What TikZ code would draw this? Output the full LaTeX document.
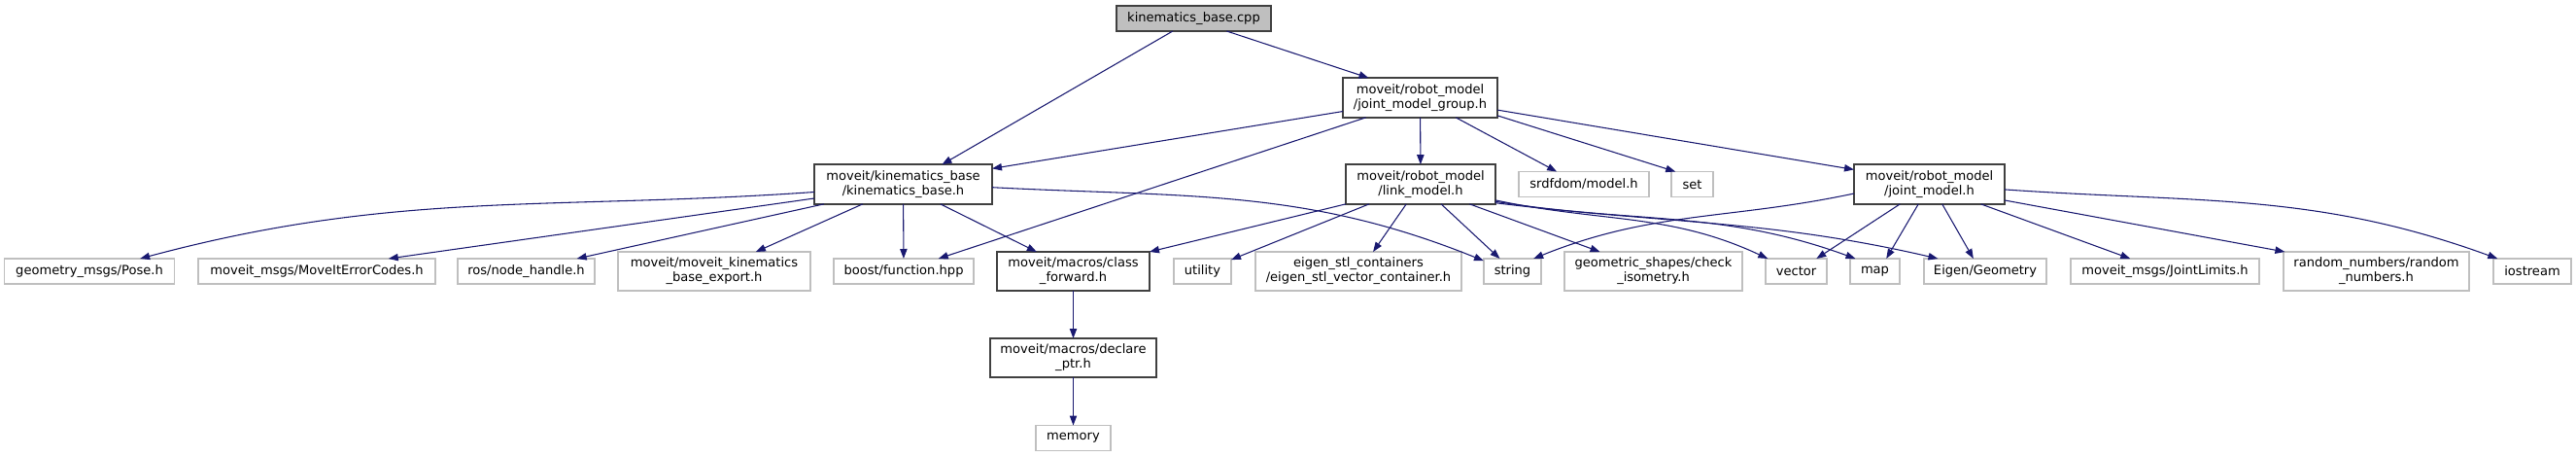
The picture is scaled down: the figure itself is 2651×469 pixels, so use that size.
\documentclass[tikz,border=0pt]{standalone}
\usepackage{fontspec}
\setmainfont{DejaVu Sans}
\usetikzlibrary{arrows.meta}
\definecolor{edgeblue}{HTML}{191970}
\definecolor{boxgray}{HTML}{BFBFBF}
\definecolor{boxdark}{HTML}{404040}
\begin{document}
\begin{tikzpicture}[x=0.75pt, y=-0.75pt,
   every node/.style={font=\fontsize{9.8}{11.25}\selectfont, align=center, inner sep=0pt, outer sep=0pt},
   hdr/.style={draw=boxdark, line width=1.1pt, fill=white, minimum height=#1},
   hdr/.default=30.5pt,
   inc/.style={draw=boxgray, line width=1.1pt, fill=white, minimum height=#1},
   inc/.default=19.5pt,
   dep/.style={draw=edgeblue, line width=0.8pt, -{Triangle[length=7.5pt, width=5.5pt]}}]
   \useasboundingbox (0,0) rectangle (2651,469);
   \node[hdr=19.5pt, fill=boxgray, minimum width=119.25pt] (kbcpp) at (1228.5,19) {kinematics\_base.cpp};
   \node[hdr, minimum width=119.25pt] (jmg) at (1461.5,100.5) {moveit/robot\_model\\/joint\_model\_group.h};
   \node[hdr, minimum width=137.25pt] (kbh) at (929.5,189.5) {moveit/kinematics\_base\\/kinematics\_base.h};
   \node[hdr, minimum width=115.5pt] (lmh) at (1462,189.5) {moveit/robot\_model\\/link\_model.h};
   \node[hdr, minimum width=116.25pt] (jmh) at (1985.5,189.5) {moveit/robot\_model\\/joint\_model.h};
   \node[inc, minimum width=100.5pt] (srdf) at (1630,189.5) {srdfdom/model.h};
   \node[inc, minimum width=32.25pt] (set) at (1741.5,189.5) {set};
   \node[inc, minimum width=131.25pt] (pose) at (92,279) {geometry\_msgs/Pose.h};
   \node[inc, minimum width=183pt] (err) at (326,279) {moveit\_msgs/MoveItErrorCodes.h};
   \node[inc, minimum width=105.75pt] (ros) at (541.5,279) {ros/node\_handle.h};
   \node[inc=30pt, minimum width=148.5pt] (export) at (735,279) {moveit/moveit\_kinematics\\\_base\_export.h};
   \node[inc, minimum width=108pt] (boost) at (930,279) {boost/function.hpp};
   \node[hdr=30pt, minimum width=117.75pt] (cfwd) at (1104.5,279) {moveit/macros/class\\\_forward.h};
   \node[inc, minimum width=44.25pt] (util) at (1237.5,279) {utility};
   \node[inc=30pt, minimum width=159pt] (estl) at (1398,279) {eigen\_stl\_containers\\/eigen\_stl\_vector\_container.h};
   \node[inc, minimum width=44.25pt] (str) at (1556.5,279) {string};
   \node[inc=30pt, minimum width=137.25pt] (geo) at (1701.5,279) {geometric\_shapes/check\\\_isometry.h};
   \node[inc, minimum width=47.25pt] (vec) at (1848.5,279) {vector};
   \node[inc, minimum width=38.25pt] (map) at (1929.5,279) {map};
   \node[inc, minimum width=94.5pt] (eig) at (2043,279) {Eigen/Geometry};
   \node[inc, minimum width=145.5pt] (jlim) at (2228,279) {moveit\_msgs/JointLimits.h};
   \node[inc=30pt, minimum width=143.25pt] (rnd) at (2445.5,279) {random\_numbers/random\\\_numbers.h};
   \node[inc, minimum width=60pt] (ios) at (2606,279) {iostream};
   \node[hdr=30pt, minimum width=128.25pt] (dptr) at (1104.5,368) {moveit/macros/declare\\\_ptr.h};
   \node[inc, minimum width=57.75pt] (mem) at (1104.5,450.5) {memory};
   \draw[dep] (kbcpp.211) -- (kbh.27);
   \draw[dep] (kbcpp.-21) -- (jmg.159);
   \draw[dep] (jmg.190) -- (kbh.10);
   \draw[dep] (jmg.200) -- (boost.20);
   \draw[dep] (jmg) -- (lmh);
   \draw[dep] (jmg.-29) -- (srdf.155);
   \draw[dep] (jmg.-13) -- (set.143);
   \draw[dep] (jmg.-9) -- (jmh.169);
   \draw[dep] (kbh.185) to[out=184, in=15] (pose.14);
   \draw[dep] (kbh.189) -- (err.10);
   \draw[dep] (kbh.194) -- (ros.14);
   \draw[dep] (kbh.206) -- (export.25);
   \draw[dep] (kbh) -- (boost);
   \draw[dep] (kbh.-28) -- (cfwd.152);
   \draw[dep] (kbh.-2) to[out=-3, in=158] (str.160);
   \draw[dep] (lmh.south west) -- (cfwd.north east);
   \draw[dep] (lmh.201) -- (util.22);
   \draw[dep] (lmh.234) -- (estl.53);
   \draw[dep] (lmh.-44) -- (str.135);
   \draw[dep] (lmh.-22) -- (geo.160);
   \draw[dep] (lmh.-12) to[out=-12, in=155] (vec.156);
   \draw[dep] (lmh.-13) to[out=-9, in=160] (map.147);
   \draw[dep] (lmh.-14) to[out=-7, in=167] (eig.165);
   \draw[dep] (jmh.187) to[out=192, in=22] (str.31);
   \draw[dep] (jmh.214) -- (vec.32);
   \draw[dep] (jmh.241) -- (map.48);
   \draw[dep] (jmh.-57) -- (eig.133);
   \draw[dep] (jmh.-21) -- (jlim.160);
   \draw[dep] (jmh.-12) -- (rnd.168);
   \draw[dep] (jmh.-4) to[out=-4, in=160] (ios.160);
   \draw[dep] (cfwd) -- (dptr);
   \draw[dep] (dptr) -- (mem);
\end{tikzpicture}
\end{document}
